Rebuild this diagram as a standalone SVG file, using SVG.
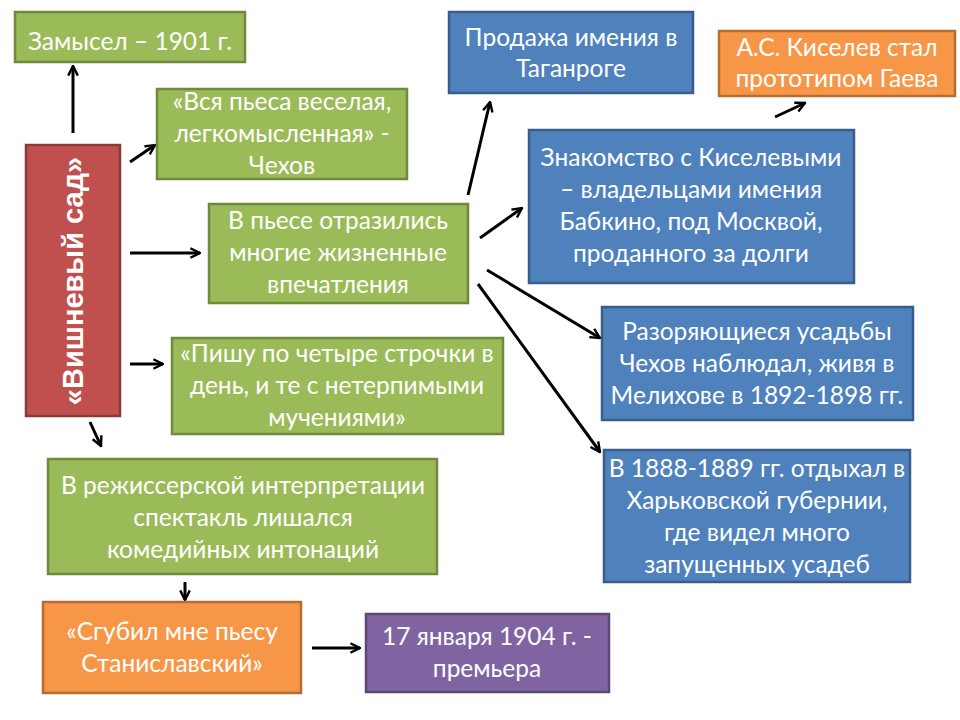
<svg xmlns="http://www.w3.org/2000/svg" width="960" height="720" viewBox="0 0 960 720">
<defs>
<style>
.box{stroke-width:2.5}
.g{fill:#9BBB59;stroke:#71893F}
.b{fill:#4F81BD;stroke:#385D8A}
.o{fill:#F79646;stroke:#B66D31}
.p{fill:#8064A2;stroke:#5C4776}
.r{fill:#C0504D;stroke:#8C3836}
text{font-family:Lato,"Liberation Sans",sans-serif;font-size:24.5px;fill:#fff;text-anchor:middle}
.title{font-family:"Liberation Sans",Arial,sans-serif;font-weight:bold;font-size:29px}
.c{stroke:#000;stroke-width:3;fill:none;marker-end:url(#ah)}
</style>
<marker id="ah" viewBox="0 0 10 10" refX="9" refY="5" markerWidth="4" markerHeight="4" orient="auto" markerUnits="strokeWidth">
<path d="M1,1 L9,5 L1,9" fill="none" stroke="#000" stroke-width="2"/>
</marker>
</defs>
<rect width="960" height="720" fill="#fff"/>
<g id="connectors">
<line class="c" x1="73" y1="133" x2="73" y2="66"/>
<line class="c" x1="130" y1="162" x2="155" y2="145"/>
<line class="c" x1="130" y1="253" x2="200" y2="253"/>
<line class="c" x1="130" y1="364" x2="163" y2="364"/>
<line class="c" x1="90" y1="422" x2="101" y2="446"/>
<line class="c" x1="185" y1="582" x2="185" y2="600"/>
<line class="c" x1="312" y1="648" x2="360" y2="648"/>
<line class="c" x1="468" y1="195" x2="490" y2="102"/>
<line class="c" x1="480" y1="238" x2="522" y2="208"/>
<line class="c" x1="487" y1="270" x2="600" y2="338"/>
<line class="c" x1="478" y1="284" x2="600" y2="452"/>
<line class="c" x1="775" y1="117" x2="805" y2="103"/>
</g>
<g id="n-zamysel"><rect class="box g" x="15" y="12" width="230" height="50"/><text x="130" y="50">Замысел – 1901 г.</text></g>
<g id="n-quote1"><rect class="box g" x="157" y="89" width="250" height="90"/><text x="282" y="110">«Вся пьеса веселая,</text><text x="282" y="142">легкомысленная» -</text><text x="282" y="174">Чехов</text></g>
<g id="n-title"><rect class="box r" x="26" y="145" width="94" height="271"/><text class="title" transform="translate(83,281) rotate(-90)" x="0" y="0">«Вишневый сад»</text></g>
<g id="n-impressions"><rect class="box g" x="209" y="204" width="259" height="99"/><text x="338" y="229">В пьесе отразились</text><text x="338" y="261">многие жизненные</text><text x="338" y="293">впечатления</text></g>
<g id="n-quote2"><rect class="box g" x="172" y="338" width="331" height="96"/><text x="337" y="362">«Пишу по четыре строчки в</text><text x="337" y="394">день, и те с нетерпимыми</text><text x="337" y="426">мучениями»</text></g>
<g id="n-director"><rect class="box g" x="48" y="459" width="389" height="115"/><text x="243" y="494">В режиссерской интерпретации</text><text x="243" y="526">спектакль лишался</text><text x="243" y="558">комедийных интонаций</text></g>
<g id="n-stanislavsky"><rect class="box o" x="43" y="602" width="258" height="91"/><text x="172" y="640">«Сгубил мне пьесу</text><text x="172" y="672">Станиславский»</text></g>
<g id="n-premiere"><rect class="box p" x="366" y="614" width="243" height="78"/><text x="487" y="645">17 января 1904 г. -</text><text x="487" y="677">премьера</text></g>
<g id="n-taganrog"><rect class="box b" x="449" y="12" width="244" height="81"/><text x="571" y="46">Продажа имения в</text><text x="571" y="77">Таганроге</text></g>
<g id="n-gaev"><rect class="box o" x="719" y="31" width="236" height="65"/><text x="837" y="56">А.С. Киселев стал</text><text x="837" y="87">прототипом Гаева</text></g>
<g id="n-kiselev"><rect class="box b" x="529" y="130" width="325" height="153"/><text x="691" y="166">Знакомство с Киселевыми</text><text x="691" y="198">– владельцами имения</text><text x="691" y="230">Бабкино, под Москвой,</text><text x="691" y="262">проданного за долги</text></g>
<g id="n-melikhovo"><rect class="box b" x="602" y="307" width="311" height="113"/><text x="757" y="340">Разоряющиеся усадьбы</text><text x="757" y="372">Чехов наблюдал, живя в</text><text x="757" y="404">Мелихове в 1892-1898 гг.</text></g>
<g id="n-kharkov"><rect class="box b" x="604" y="450" width="306" height="132"/><text x="757" y="477">В 1888-1889 гг. отдыхал в</text><text x="757" y="509">Харьковской губернии,</text><text x="757" y="541">где видел много</text><text x="757" y="573">запущенных усадеб</text></g>
</svg>
